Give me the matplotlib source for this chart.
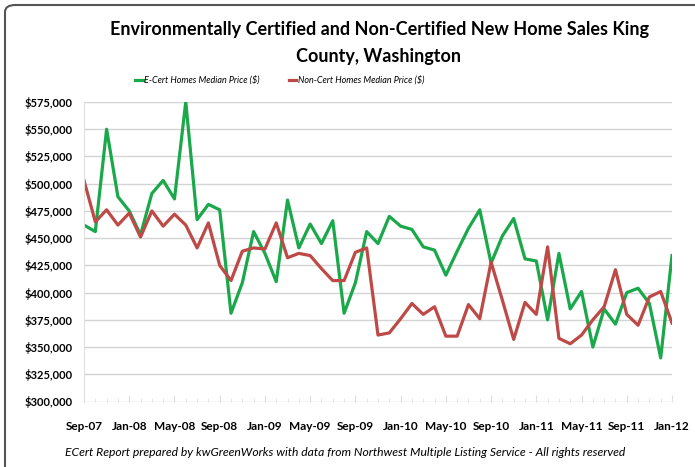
import matplotlib
matplotlib.use("Agg")
import matplotlib.pyplot as plt
from matplotlib.patches import FancyBboxPatch
from matplotlib.ticker import FuncFormatter, MultipleLocator
import numpy as np

months = ["Sep-07", "Oct-07", "Nov-07", "Dec-07", "Jan-08", "Feb-08", "Mar-08", "Apr-08",
          "May-08", "Jun-08", "Jul-08", "Aug-08", "Sep-08", "Oct-08", "Nov-08", "Dec-08",
          "Jan-09", "Feb-09", "Mar-09", "Apr-09", "May-09", "Jun-09", "Jul-09", "Aug-09",
          "Sep-09", "Oct-09", "Nov-09", "Dec-09", "Jan-10", "Feb-10", "Mar-10", "Apr-10",
          "May-10", "Jun-10", "Jul-10", "Aug-10", "Sep-10", "Oct-10", "Nov-10", "Dec-10",
          "Jan-11", "Feb-11", "Mar-11", "Apr-11", "May-11", "Jun-11", "Jul-11", "Aug-11",
          "Sep-11", "Oct-11", "Nov-11", "Dec-11", "Jan-12"]

ecert = [462000, 456000, 550000, 488000, 475000, 453000, 491000, 503000,
         486000, 575000, 467000, 481000, 476000, 381000, 409000, 456000,
         436000, 410000, 485000, 441000, 463000, 445000, 466000, 381000,
         409000, 456000, 445000, 470000, 461000, 458000, 442000, 439000,
         416000, 438000, 459000, 476000, 427000, 452000, 468000, 431000,
         429000, 375000, 436000, 385000, 401000, 350000, 385000, 371000,
         400000, 404000, 390000, 340000, 434000]

noncert = [503000, 465000, 476000, 462000, 473000, 451000, 475000, 461000,
           472000, 462000, 441000, 464000, 425000, 411000, 438000, 441000,
           440000, 464000, 432000, 436000, 434000, 422000, 411000, 411000,
           437000, 441000, 361000, 363000, 376000, 390000, 380000, 387000,
           360000, 360000, 389000, 376000, 428000, 393000, 357000, 391000,
           380000, 442000, 358000, 353000, 361000, 375000, 387000, 421000,
           380000, 370000, 396000, 401000, 372000]

green = "#1aa84b"
red = "#bd4a47"

plt.rcParams["font.family"] = ["Lato", "DejaVu Sans"]

fig = plt.figure(figsize=(6.95, 4.67), dpi=100)
ax = fig.add_axes([84 / 695, 1 - 401.5 / 467, 588 / 695, 299.5 / 467])

x = np.arange(len(months))
ax.plot(x, ecert, color=green, lw=2.3, label="E-Cert Homes Median Price ($)")
ax.plot(x, noncert, color=red, lw=2.3, label="Non-Cert Homes Median Price ($)")

ax.set_xlim(0, len(months) - 1)
ax.set_ylim(300000, 575000)
ax.yaxis.set_major_locator(MultipleLocator(25000))
ax.yaxis.set_major_formatter(FuncFormatter(lambda v, p: f"${v:,.0f}"))
ax.set_xticks(x[::4])
ax.set_xticklabels(months[::4])
ax.set_xticks(x, minor=True)
ax.grid(axis="y", color="#d4d4d4", lw=1)
ax.set_axisbelow(True)
for s in ["top", "right", "bottom"]:
    ax.spines[s].set_visible(False)
ax.spines["left"].set_color("#e0e0e0")
ax.tick_params(axis="y", length=0, pad=8, labelsize=8)
ax.tick_params(axis="x", which="major", length=5, direction="in", color="#e0e0e0", pad=14, labelsize=8.5)
ax.tick_params(axis="x", which="minor", length=3, direction="in", color="#e0e0e0")
for t in ax.get_xticklabels() + ax.get_yticklabels():
    t.set_fontweight("bold")

# title, two lines like the original
fig.text(379 / 695, 1 - 43 / 467, "Environmentally Certified and Non-Certified New Home Sales King\nCounty, Washington",
         ha="center", va="center", fontsize=13, fontweight="bold", linespacing=1.75)

leg = fig.legend(loc="center", bbox_to_anchor=(280 / 695, 1 - 80 / 467), ncol=2, frameon=False,
                 prop={"style": "italic", "size": 6.5}, handlelength=0.8, handletextpad=0.2, columnspacing=3.2)

fig.text(345 / 695, 1 - 452 / 467,
         "ECert Report prepared by kwGreenWorks with data from Northwest Multiple Listing Service - All rights reserved",
         ha="center", va="center", fontsize=8.7, style="italic")

frame = FancyBboxPatch((5 / 695, -0.05), 1.2, 1 - 5 / 467 + 0.05, boxstyle="round,pad=0,rounding_size=0.015",
                       transform=fig.transFigure, fill=False, edgecolor="#555555", lw=1.5, clip_on=False)
fig.patches.append(frame)

fig.savefig("out.png", dpi=100)
